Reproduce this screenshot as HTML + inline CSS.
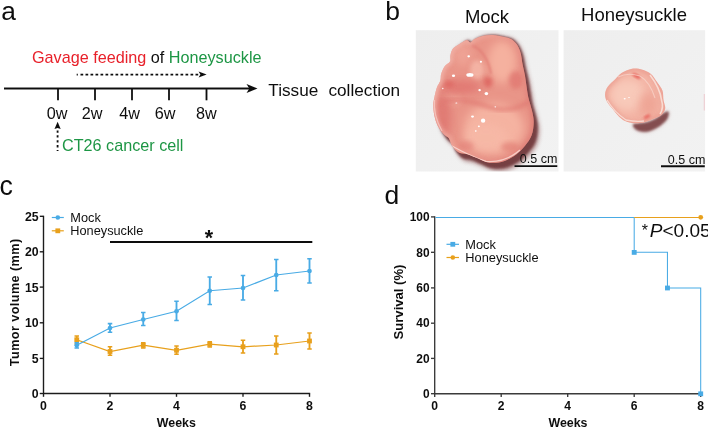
<!DOCTYPE html><html><head><meta charset="utf-8"><style>html,body{margin:0;padding:0;background:#fff}svg{display:block}text{font-family:"Liberation Sans",sans-serif}</style></head><body>
<svg width="708" height="428" viewBox="0 0 708 428">
<defs>
<filter id="b1" x="-20%" y="-20%" width="140%" height="140%"><feGaussianBlur stdDeviation="1"/></filter>
<filter id="b2" x="-30%" y="-30%" width="160%" height="160%"><feGaussianBlur stdDeviation="2.2"/></filter>
<filter id="b4" x="-40%" y="-40%" width="180%" height="180%"><feGaussianBlur stdDeviation="4"/></filter>
<filter id="b05" x="-20%" y="-20%" width="140%" height="140%"><feGaussianBlur stdDeviation="0.5"/></filter>
<radialGradient id="t1g" cx="0.45" cy="0.5" r="0.6"><stop offset="0" stop-color="#f6b9a8"/><stop offset="0.7" stop-color="#f0a596"/><stop offset="1" stop-color="#e58c82"/></radialGradient>
<radialGradient id="t2g" cx="0.45" cy="0.5" r="0.6"><stop offset="0" stop-color="#f8c6b4"/><stop offset="0.75" stop-color="#f3b3a2"/><stop offset="1" stop-color="#ec9c90"/></radialGradient>
<linearGradient id="bg1" x1="0" y1="0" x2="1" y2="1"><stop offset="0" stop-color="#eeeeee"/><stop offset="1" stop-color="#f2f2f2"/></linearGradient>
<linearGradient id="edgeg" gradientUnits="userSpaceOnUse" x1="433" y1="80" x2="534" y2="110"><stop offset="0" stop-color="#f6c3ba"/><stop offset="0.4" stop-color="#efa599"/><stop offset="0.75" stop-color="#e58a82"/><stop offset="1" stop-color="#dd7872"/></linearGradient>
<clipPath id="c1"><rect x="415.8" y="30.2" width="142.7" height="141.3"/></clipPath>
<clipPath id="c2"><rect x="563.6" y="30.2" width="141.5" height="141.3"/></clipPath>
<filter id="soft" x="0" y="0" width="708" height="428" filterUnits="userSpaceOnUse"><feGaussianBlur stdDeviation="0.38"/></filter>
</defs>
<rect width="708" height="428" fill="#fff"/>
<g filter="url(#soft)">
<text x="1.3" y="20.4" font-size="26.3" fill="#111">a</text>
<text x="32" y="62.5" font-size="16.2"><tspan fill="#e8202a">Gavage feeding</tspan><tspan fill="#111"> of </tspan><tspan fill="#1f9645">Honeysuckle</tspan></text>
<line x1="80.5" y1="74.6" x2="198.2" y2="74.6" stroke="#111" stroke-width="1.8" stroke-dasharray="2.7,2.3"/>
<line x1="76.7" y1="74.6" x2="77.8" y2="74.6" stroke="#111" stroke-width="1.8"/>
<path d="M206.6,74.6 L198.6,71.6 L200.4,74.6 L198.6,77.6Z" fill="#111"/>
<line x1="4" y1="88.5" x2="250" y2="88.5" stroke="#111" stroke-width="1.8"/>
<path d="M257.5,88.5 L246.5,84 L249.3,88.5 L246.5,93Z" fill="#111"/>
<line x1="58" y1="88.5" x2="58" y2="100.3" stroke="#111" stroke-width="1.8"/>
<line x1="95" y1="88.5" x2="95" y2="100.3" stroke="#111" stroke-width="1.8"/>
<line x1="132" y1="88.5" x2="132" y2="100.3" stroke="#111" stroke-width="1.8"/>
<line x1="169" y1="88.5" x2="169" y2="100.3" stroke="#111" stroke-width="1.8"/>
<line x1="206.5" y1="88.5" x2="206.5" y2="100.3" stroke="#111" stroke-width="1.8"/>
<text x="46.8" y="118.7" font-size="16.2" fill="#111">0w</text>
<text x="81.8" y="118.7" font-size="16.2" fill="#111">2w</text>
<text x="119.3" y="118.7" font-size="16.2" fill="#111">4w</text>
<text x="154.8" y="118.7" font-size="16.2" fill="#111">6w</text>
<text x="195.9" y="118.7" font-size="16.2" fill="#111">8w</text>
<text x="268.3" y="96.1" font-size="17.2" fill="#111" xml:space="preserve">Tissue <tspan dx="5.4">collection</tspan></text>
<line x1="57.6" y1="130.4" x2="57.6" y2="151.1" stroke="#111" stroke-width="1.8" stroke-dasharray="2.3,2.6"/>
<path d="M57.6,121.8 L54.5,128.9 L57.6,127.9 L60.7,128.9Z" fill="#111"/>
<text x="62" y="151.4" font-size="16.2" fill="#1f9645">CT26 cancer cell</text>
<text x="385.3" y="19.5" font-size="26.5" fill="#111">b</text>
<text x="487" y="23" font-size="18.5" text-anchor="middle" fill="#111">Mock</text>
<text x="634" y="21" font-size="18.5" text-anchor="middle" fill="#111">Honeysuckle</text>
<rect x="415.8" y="30.2" width="142.7" height="141.3" fill="url(#bg1)"/>
<rect x="563.6" y="30.2" width="141.5" height="141.3" fill="url(#bg1)"/>
<g clip-path="url(#c1)">
<path d="M468.5,40.2C470.4,39.9 471.4,43.1 472.7,43.0C473.9,42.8 474.2,40.5 476.2,39.3C478.1,38.1 481.5,36.6 484.6,35.9C487.7,35.2 491.4,35.0 494.8,35.1C498.2,35.2 501.9,36.1 505.0,36.8C508.1,37.5 510.9,37.7 513.4,39.3C515.8,40.9 518.0,43.4 519.8,46.3C521.5,49.1 522.8,52.5 523.9,56.2C525.0,59.9 525.4,63.9 526.4,68.3C527.4,72.6 528.9,77.7 529.9,82.3C530.8,86.9 531.6,91.9 532.3,95.8C533.0,99.7 533.1,102.3 534.0,106.0C534.9,109.7 536.5,114.2 537.4,118.2C538.3,122.2 539.4,125.9 539.3,130.2C539.3,134.5 538.6,139.8 537.1,143.8C535.6,147.8 533.1,150.9 530.6,154.0C528.1,157.1 525.2,160.0 522.1,162.4C519.0,164.8 515.4,167.0 512.0,168.4C508.6,169.8 505.2,170.6 501.8,170.9C498.4,171.2 495.0,170.9 491.6,170.1C488.2,169.2 484.5,167.1 481.4,165.8C478.3,164.5 475.8,163.2 473.0,162.4C470.2,161.5 467.1,162.1 464.5,160.7C461.9,159.3 459.4,156.4 457.7,154.0C456.0,151.6 455.7,148.3 454.3,146.3C452.9,144.3 451.0,144.2 449.2,142.1C447.4,140.0 444.9,136.7 443.3,133.6C441.8,130.5 440.6,126.9 439.9,123.5C439.2,120.1 438.9,116.2 438.9,113.3C438.9,110.4 439.3,108.9 439.9,106.0C440.5,103.1 441.6,98.8 442.5,95.8C443.4,92.8 445.0,90.8 445.6,88.2C446.1,85.7 445.3,83.2 445.8,80.3C446.3,77.5 447.3,73.7 448.6,71.2C449.9,68.7 452.9,67.6 453.7,65.4C454.5,63.3 453.3,60.7 453.6,58.2C453.9,55.7 454.4,52.3 455.7,50.2C456.9,48.0 459.1,46.9 461.2,45.2C463.4,43.5 466.6,40.6 468.5,40.2Z" fill="#a57878" filter="url(#b2)" opacity="0.85"/>
<path d="M467.9,40.2C469.8,39.9 470.8,43.0 472.0,42.8C473.3,42.7 473.6,40.5 475.6,39.3C477.6,38.1 480.9,36.6 484.0,35.9C487.1,35.2 490.8,35.0 494.2,35.1C497.6,35.2 501.3,36.1 504.4,36.8C507.5,37.5 510.3,37.8 512.8,39.3C515.3,40.8 517.4,43.3 519.1,46.0C520.8,48.7 522.0,52.0 523.0,55.5C524.0,59.0 524.4,62.8 525.3,67.0C526.2,71.1 527.6,76.0 528.5,80.4C529.4,84.8 530.0,89.5 530.7,93.4C531.4,97.3 531.5,99.9 532.4,103.6C533.2,107.3 534.9,111.8 535.8,115.8C536.7,119.8 537.8,123.5 537.7,127.8C537.7,132.1 537.0,137.4 535.5,141.4C534.0,145.4 531.5,148.5 529.0,151.6C526.5,154.7 523.6,157.6 520.5,160.0C517.4,162.4 513.8,164.6 510.4,166.0C507.0,167.4 503.6,168.2 500.2,168.5C496.8,168.8 493.4,168.6 490.0,167.7C486.6,166.9 482.9,164.7 479.8,163.4C476.7,162.1 474.2,160.8 471.4,160.0C468.6,159.2 465.4,159.7 462.9,158.3C460.3,156.9 457.8,154.0 456.1,151.6C454.4,149.2 454.1,145.9 452.7,143.9C451.3,141.9 449.4,141.8 447.6,139.7C445.8,137.6 443.2,134.3 441.7,131.2C440.1,128.1 439.0,124.5 438.3,121.1C437.6,117.7 437.3,113.8 437.3,110.9C437.3,108.0 437.7,106.5 438.3,103.6C438.9,100.7 439.9,96.3 440.9,93.4C441.9,90.5 443.5,88.5 444.1,86.1C444.7,83.6 443.9,81.2 444.5,78.5C445.0,75.8 446.1,72.2 447.4,69.8C448.8,67.4 451.8,66.3 452.6,64.3C453.5,62.2 452.3,59.8 452.7,57.4C453.1,55.0 453.6,51.8 454.9,49.7C456.2,47.6 458.4,46.5 460.6,45.0C462.7,43.4 466.0,40.6 467.9,40.2Z" fill="#733c40" filter="url(#b1)" opacity="0.95"/>
<path d="M466.5,40.2C468.4,39.9 469.2,42.6 470.5,42.5C471.8,42.4 472.2,40.4 474.2,39.3C476.2,38.2 479.5,36.6 482.6,35.9C485.7,35.2 489.4,35.0 492.8,35.1C496.2,35.2 499.9,36.1 503.0,36.8C506.1,37.5 509.0,37.9 511.4,39.3C513.8,40.7 515.8,42.9 517.4,45.3C519.0,47.7 519.9,50.6 520.8,53.7C521.6,56.8 521.8,60.2 522.5,63.9C523.2,67.6 524.3,71.8 525.0,75.8C525.7,79.8 526.1,83.9 526.7,87.6C527.3,91.3 527.5,94.1 528.4,97.8C529.2,101.5 530.9,106.0 531.8,110.0C532.7,114.0 533.8,117.7 533.7,122.0C533.7,126.3 533.0,131.6 531.5,135.6C530.0,139.6 527.5,142.7 525.0,145.8C522.5,148.9 519.6,151.8 516.5,154.2C513.4,156.6 509.8,158.8 506.4,160.2C503.0,161.6 499.6,162.4 496.2,162.7C492.8,163.0 489.4,162.8 486.0,161.9C482.6,161.1 478.9,158.9 475.8,157.6C472.7,156.3 470.2,155.0 467.4,154.2C464.6,153.3 461.4,153.9 458.9,152.5C456.3,151.1 453.8,148.2 452.1,145.8C450.4,143.4 450.1,140.1 448.7,138.1C447.3,136.1 445.4,136.0 443.6,133.9C441.8,131.8 439.2,128.5 437.7,125.4C436.1,122.3 435.0,118.7 434.3,115.3C433.6,111.9 433.3,108.0 433.3,105.1C433.3,102.2 433.7,100.7 434.3,97.8C434.9,94.9 435.9,90.4 436.9,87.6C437.9,84.8 439.6,83.0 440.3,80.8C441.0,78.5 440.4,76.5 441.1,74.1C441.8,71.7 443.0,68.5 444.5,66.4C446.0,64.3 449.0,63.3 450.0,61.5C451.0,59.7 449.9,57.5 450.4,55.4C450.9,53.2 451.6,50.4 453.0,48.6C454.4,46.8 456.6,45.8 458.9,44.4C461.1,43.0 464.6,40.5 466.5,40.2Z" fill="#e99588" filter="url(#b05)"/>
<clipPath id="t1c"><path d="M466.5,40.2C468.4,39.9 469.2,42.6 470.5,42.5C471.8,42.4 472.2,40.4 474.2,39.3C476.2,38.2 479.5,36.6 482.6,35.9C485.7,35.2 489.4,35.0 492.8,35.1C496.2,35.2 499.9,36.1 503.0,36.8C506.1,37.5 509.0,37.9 511.4,39.3C513.8,40.7 515.8,42.9 517.4,45.3C519.0,47.7 519.9,50.6 520.8,53.7C521.6,56.8 521.8,60.2 522.5,63.9C523.2,67.6 524.3,71.8 525.0,75.8C525.7,79.8 526.1,83.9 526.7,87.6C527.3,91.3 527.5,94.1 528.4,97.8C529.2,101.5 530.9,106.0 531.8,110.0C532.7,114.0 533.8,117.7 533.7,122.0C533.7,126.3 533.0,131.6 531.5,135.6C530.0,139.6 527.5,142.7 525.0,145.8C522.5,148.9 519.6,151.8 516.5,154.2C513.4,156.6 509.8,158.8 506.4,160.2C503.0,161.6 499.6,162.4 496.2,162.7C492.8,163.0 489.4,162.8 486.0,161.9C482.6,161.1 478.9,158.9 475.8,157.6C472.7,156.3 470.2,155.0 467.4,154.2C464.6,153.3 461.4,153.9 458.9,152.5C456.3,151.1 453.8,148.2 452.1,145.8C450.4,143.4 450.1,140.1 448.7,138.1C447.3,136.1 445.4,136.0 443.6,133.9C441.8,131.8 439.2,128.5 437.7,125.4C436.1,122.3 435.0,118.7 434.3,115.3C433.6,111.9 433.3,108.0 433.3,105.1C433.3,102.2 433.7,100.7 434.3,97.8C434.9,94.9 435.9,90.4 436.9,87.6C437.9,84.8 439.6,83.0 440.3,80.8C441.0,78.5 440.4,76.5 441.1,74.1C441.8,71.7 443.0,68.5 444.5,66.4C446.0,64.3 449.0,63.3 450.0,61.5C451.0,59.7 449.9,57.5 450.4,55.4C450.9,53.2 451.6,50.4 453.0,48.6C454.4,46.8 456.6,45.8 458.9,44.4C461.1,43.0 464.6,40.5 466.5,40.2Z"/></clipPath>
<g clip-path="url(#t1c)">
<ellipse cx="494" cy="128" rx="30" ry="25" fill="#f5b3a1" filter="url(#b4)"/>
<ellipse cx="486" cy="138" rx="22" ry="14" fill="#f7b9a7" filter="url(#b4)" opacity="0.8"/>
<ellipse cx="502" cy="62" rx="14" ry="21" fill="#f5b19f" filter="url(#b4)"/>
<ellipse cx="463" cy="55" rx="9" ry="11" fill="#efa496" filter="url(#b4)" opacity="0.9"/>
<ellipse cx="477" cy="70" rx="7" ry="10" fill="#f5b8a9" filter="url(#b2)" opacity="0.85"/>
<ellipse cx="452" cy="100" rx="10" ry="7" fill="#efa698" filter="url(#b2)" opacity="0.7"/>
<ellipse cx="460" cy="87" rx="22" ry="6.5" fill="#e0756f" filter="url(#b4)" opacity="0.9"/>
<ellipse cx="516" cy="80" rx="7" ry="9" fill="#e17972" filter="url(#b2)" opacity="0.8"/>
<ellipse cx="443" cy="116" rx="8" ry="22" fill="#df7771" filter="url(#b4)" opacity="0.9"/>
<path d="M440,102 Q462,97 486,106 T530,101" stroke="#df756e" stroke-width="3.5" fill="none" filter="url(#b2)" opacity="0.75"/>
<ellipse cx="488" cy="82" rx="4.5" ry="5.5" fill="#dd635e" filter="url(#b2)" opacity="0.85"/>
<ellipse cx="449" cy="84" rx="5" ry="3" fill="#dd635e" filter="url(#b2)" opacity="0.75"/>
<path d="M472,45 Q487,52 491,74" stroke="#e17d75" stroke-width="2.4" fill="none" filter="url(#b1)" opacity="0.75"/>
<ellipse cx="510" cy="147" rx="9" ry="5" fill="#e28076" filter="url(#b2)" opacity="0.65"/>
<ellipse cx="466" cy="146" rx="8" ry="5" fill="#e38279" filter="url(#b2)" opacity="0.6"/>
<path d="M466.5,40.2C468.4,39.9 469.2,42.6 470.5,42.5C471.8,42.4 472.2,40.4 474.2,39.3C476.2,38.2 479.5,36.6 482.6,35.9C485.7,35.2 489.4,35.0 492.8,35.1C496.2,35.2 499.9,36.1 503.0,36.8C506.1,37.5 509.0,37.9 511.4,39.3C513.8,40.7 515.8,42.9 517.4,45.3C519.0,47.7 519.9,50.6 520.8,53.7C521.6,56.8 521.8,60.2 522.5,63.9C523.2,67.6 524.3,71.8 525.0,75.8C525.7,79.8 526.1,83.9 526.7,87.6C527.3,91.3 527.5,94.1 528.4,97.8C529.2,101.5 530.9,106.0 531.8,110.0C532.7,114.0 533.8,117.7 533.7,122.0C533.7,126.3 533.0,131.6 531.5,135.6C530.0,139.6 527.5,142.7 525.0,145.8C522.5,148.9 519.6,151.8 516.5,154.2C513.4,156.6 509.8,158.8 506.4,160.2C503.0,161.6 499.6,162.4 496.2,162.7C492.8,163.0 489.4,162.8 486.0,161.9C482.6,161.1 478.9,158.9 475.8,157.6C472.7,156.3 470.2,155.0 467.4,154.2C464.6,153.3 461.4,153.9 458.9,152.5C456.3,151.1 453.8,148.2 452.1,145.8C450.4,143.4 450.1,140.1 448.7,138.1C447.3,136.1 445.4,136.0 443.6,133.9C441.8,131.8 439.2,128.5 437.7,125.4C436.1,122.3 435.0,118.7 434.3,115.3C433.6,111.9 433.3,108.0 433.3,105.1C433.3,102.2 433.7,100.7 434.3,97.8C434.9,94.9 435.9,90.4 436.9,87.6C437.9,84.8 439.6,83.0 440.3,80.8C441.0,78.5 440.4,76.5 441.1,74.1C441.8,71.7 443.0,68.5 444.5,66.4C446.0,64.3 449.0,63.3 450.0,61.5C451.0,59.7 449.9,57.5 450.4,55.4C450.9,53.2 451.6,50.4 453.0,48.6C454.4,46.8 456.6,45.8 458.9,44.4C461.1,43.0 464.6,40.5 466.5,40.2Z" fill="none" stroke="url(#edgeg)" stroke-width="4.5" filter="url(#b2)" opacity="0.8"/>
<path d="M452,146 Q470,156 486,161.5 Q505,163 520,150" stroke="#fbd9d2" stroke-width="1.4" fill="none" filter="url(#b05)" opacity="0.85"/>
<path d="M434.5,100 Q433,115 442,131" stroke="#f9cfc8" stroke-width="1.2" fill="none" filter="url(#b05)" opacity="0.7"/>
<ellipse cx="469.9" cy="74.9" rx="3.6" ry="1.9" fill="#fff" filter="url(#b05)"/>
<ellipse cx="453.5" cy="75.8" rx="1.6" ry="1.3" fill="#fff" filter="url(#b05)"/>
<ellipse cx="480.9" cy="61.7" rx="1.1" ry="1" fill="#fff" filter="url(#b05)"/>
<ellipse cx="468.7" cy="56.3" rx="1.3" ry="1.1" fill="#fff" filter="url(#b05)"/>
<ellipse cx="486.4" cy="93.6" rx="1.8" ry="1.6" fill="#fff" filter="url(#b05)"/>
<ellipse cx="479.6" cy="90.2" rx="1.2" ry="1.1" fill="#fff" filter="url(#b05)"/>
<ellipse cx="472.5" cy="116.6" rx="1.5" ry="1.1" fill="#fff" filter="url(#b05)"/>
<ellipse cx="483.1" cy="120.7" rx="2.2" ry="2.1" fill="#fff" filter="url(#b05)"/>
<ellipse cx="478.9" cy="126.3" rx="1" ry="0.9" fill="#fff" filter="url(#b05)"/>
<ellipse cx="475.8" cy="131" rx="0.9" ry="0.7" fill="#fff" filter="url(#b05)"/>
<ellipse cx="442.8" cy="88.5" rx="0.7" ry="0.7" fill="#fff" filter="url(#b05)"/>
<ellipse cx="456.4" cy="103" rx="1" ry="0.6" fill="#fff" filter="url(#b05)"/>
<ellipse cx="495.3" cy="106.8" rx="0.8" ry="0.6" fill="#fff" filter="url(#b05)"/>
</g></g>
<line x1="514.5" y1="166.1" x2="557.3" y2="166.1" stroke="#111" stroke-width="1.9"/>
<text x="519.8" y="163.3" font-size="12.5" fill="#111">0.5 cm</text>
<g clip-path="url(#c2)">
<path d="M634.0,124.0C636.0,123.2 642.3,123.4 646.0,122.5C649.7,121.6 653.0,120.1 656.0,118.5C659.0,116.9 661.9,114.1 664.0,113.0C666.1,111.9 668.0,111.0 668.5,112.0C669.0,113.0 668.6,116.6 667.0,119.0C665.4,121.4 662.2,124.4 659.0,126.5C655.8,128.6 651.3,130.8 648.0,131.5C644.7,132.2 641.3,131.7 639.0,131.0C636.7,130.3 634.8,128.7 634.0,127.5C633.2,126.3 632.0,124.8 634.0,124.0Z" fill="#b99292" filter="url(#b2)" opacity="0.7"/>
<path d="M634.0,124.0C636.0,123.2 642.3,123.4 646.0,122.5C649.7,121.6 653.0,120.1 656.0,118.5C659.0,116.9 661.9,114.1 664.0,113.0C666.1,111.9 668.0,111.0 668.5,112.0C669.0,113.0 668.6,116.6 667.0,119.0C665.4,121.4 662.2,124.4 659.0,126.5C655.8,128.6 651.3,130.8 648.0,131.5C644.7,132.2 641.3,131.7 639.0,131.0C636.7,130.3 634.8,128.7 634.0,127.5C633.2,126.3 632.0,124.8 634.0,124.0Z" fill="#804a4c" filter="url(#b1)" opacity="0.95"/>
<path d="M632.0,68.7C635.5,68.2 639.4,68.8 642.5,69.7C645.6,70.6 648.4,71.8 650.9,73.9C653.4,76.0 655.3,79.5 657.2,82.3C659.1,85.1 661.5,87.7 662.5,90.7C663.5,93.7 663.0,97.2 663.5,100.2C664.0,103.2 665.6,106.1 665.2,108.6C664.9,111.0 663.4,113.2 661.4,114.9C659.4,116.7 655.8,117.9 653.0,119.1C650.2,120.3 647.8,121.5 644.6,122.2C641.5,122.9 637.2,123.5 634.1,123.3C631.0,123.1 628.2,122.2 625.7,121.2C623.2,120.2 621.5,118.9 619.4,117.0C617.3,115.1 615.2,112.2 613.1,109.6C611.0,107.0 608.1,103.8 606.8,101.2C605.5,98.6 604.9,96.4 605.1,93.9C605.3,91.5 606.2,89.0 607.9,86.5C609.6,84.0 612.9,81.5 615.2,79.2C617.5,76.9 618.7,74.7 621.5,72.9C624.3,71.2 628.5,69.2 632.0,68.7Z" fill="#f3b3a4" filter="url(#b05)"/>
<clipPath id="t2c"><path d="M632.0,68.7C635.5,68.2 639.4,68.8 642.5,69.7C645.6,70.6 648.4,71.8 650.9,73.9C653.4,76.0 655.3,79.5 657.2,82.3C659.1,85.1 661.5,87.7 662.5,90.7C663.5,93.7 663.0,97.2 663.5,100.2C664.0,103.2 665.6,106.1 665.2,108.6C664.9,111.0 663.4,113.2 661.4,114.9C659.4,116.7 655.8,117.9 653.0,119.1C650.2,120.3 647.8,121.5 644.6,122.2C641.5,122.9 637.2,123.5 634.1,123.3C631.0,123.1 628.2,122.2 625.7,121.2C623.2,120.2 621.5,118.9 619.4,117.0C617.3,115.1 615.2,112.2 613.1,109.6C611.0,107.0 608.1,103.8 606.8,101.2C605.5,98.6 604.9,96.4 605.1,93.9C605.3,91.5 606.2,89.0 607.9,86.5C609.6,84.0 612.9,81.5 615.2,79.2C617.5,76.9 618.7,74.7 621.5,72.9C624.3,71.2 628.5,69.2 632.0,68.7Z"/></clipPath>
<g clip-path="url(#t2c)">
<ellipse cx="628" cy="95" rx="18" ry="16" fill="#f8c9b9" filter="url(#b4)"/>
<ellipse cx="648" cy="104" rx="9" ry="12" fill="#eda192" filter="url(#b4)" opacity="0.8"/>
<path d="M632.0,68.7C635.5,68.2 639.4,68.8 642.5,69.7C645.6,70.6 648.4,71.8 650.9,73.9C653.4,76.0 655.3,79.5 657.2,82.3C659.1,85.1 661.5,87.7 662.5,90.7C663.5,93.7 663.0,97.2 663.5,100.2C664.0,103.2 665.6,106.1 665.2,108.6C664.9,111.0 663.4,113.2 661.4,114.9C659.4,116.7 655.8,117.9 653.0,119.1C650.2,120.3 647.8,121.5 644.6,122.2C641.5,122.9 637.2,123.5 634.1,123.3C631.0,123.1 628.2,122.2 625.7,121.2C623.2,120.2 621.5,118.9 619.4,117.0C617.3,115.1 615.2,112.2 613.1,109.6C611.0,107.0 608.1,103.8 606.8,101.2C605.5,98.6 604.9,96.4 605.1,93.9C605.3,91.5 606.2,89.0 607.9,86.5C609.6,84.0 612.9,81.5 615.2,79.2C617.5,76.9 618.7,74.7 621.5,72.9C624.3,71.2 628.5,69.2 632.0,68.7Z" fill="none" stroke="#e79387" stroke-width="3.5" filter="url(#b2)" opacity="0.75"/>
<ellipse cx="636.5" cy="76" rx="4.5" ry="2" fill="#e8605a" filter="url(#b1)" opacity="0.85" transform="rotate(30 636.5 76)"/>
<ellipse cx="647" cy="116.8" rx="3.6" ry="1.7" fill="#e8605a" filter="url(#b1)" opacity="0.85" transform="rotate(-30 647 116.8)"/>
<path d="M650,75 Q660,88 661.5,100 Q664,108 660,114" stroke="#fae0d8" stroke-width="1.6" fill="none" filter="url(#b05)" opacity="0.9"/>
<path d="M607,100 Q614,112 626,120 Q636,122 644,121" stroke="#fae0d8" stroke-width="1.4" fill="none" filter="url(#b05)" opacity="0.85"/>
<path d="M618,77 Q628,72 640,76 Q650,82 655,98" stroke="#f9d6cc" stroke-width="1.1" fill="none" filter="url(#b05)" opacity="0.7"/>
<ellipse cx="624.7" cy="98.7" rx="1" ry="0.7" fill="#fff" filter="url(#b05)"/>
<ellipse cx="629" cy="97.5" rx="0.8" ry="0.6" fill="#fff" filter="url(#b05)"/>
</g></g>
<line x1="704.3" y1="94" x2="704.3" y2="110.5" stroke="#ecb4bc" stroke-width="1.1" opacity="0.6"/>
<line x1="661" y1="166.3" x2="704.8" y2="166.3" stroke="#111" stroke-width="1.9"/>
<text x="667.8" y="163.5" font-size="12.5" fill="#111">0.5 cm</text>
<text x="-0.5" y="195.2" font-size="26.8" fill="#111">c</text>
<path d="M43.5,215.65V393.5H310.15" fill="none" stroke="#1a1a1a" stroke-width="1.35"/>
<line x1="39.8" y1="393.50" x2="43.5" y2="393.50" stroke="#1a1a1a" stroke-width="1.35"/>
<text x="38.7" y="397.90" font-size="12.3" font-weight="bold" text-anchor="end" fill="#111">0</text>
<line x1="39.8" y1="358.40" x2="43.5" y2="358.40" stroke="#1a1a1a" stroke-width="1.35"/>
<text x="38.7" y="362.80" font-size="12.3" font-weight="bold" text-anchor="end" fill="#111">5</text>
<line x1="39.8" y1="322.80" x2="43.5" y2="322.80" stroke="#1a1a1a" stroke-width="1.35"/>
<text x="38.7" y="327.20" font-size="12.3" font-weight="bold" text-anchor="end" fill="#111">10</text>
<line x1="39.8" y1="287.10" x2="43.5" y2="287.10" stroke="#1a1a1a" stroke-width="1.35"/>
<text x="38.7" y="291.50" font-size="12.3" font-weight="bold" text-anchor="end" fill="#111">15</text>
<line x1="39.8" y1="251.80" x2="43.5" y2="251.80" stroke="#1a1a1a" stroke-width="1.35"/>
<text x="38.7" y="256.20" font-size="12.3" font-weight="bold" text-anchor="end" fill="#111">20</text>
<line x1="39.8" y1="216.30" x2="43.5" y2="216.30" stroke="#1a1a1a" stroke-width="1.35"/>
<text x="38.7" y="220.70" font-size="12.3" font-weight="bold" text-anchor="end" fill="#111">25</text>
<line x1="43.5" y1="393.5" x2="43.5" y2="396.8" stroke="#1a1a1a" stroke-width="1.35"/>
<text x="43.5" y="409.8" font-size="12.3" font-weight="bold" text-anchor="middle" fill="#111">0</text>
<line x1="110.0" y1="393.5" x2="110.0" y2="396.8" stroke="#1a1a1a" stroke-width="1.35"/>
<text x="110.0" y="409.8" font-size="12.3" font-weight="bold" text-anchor="middle" fill="#111">2</text>
<line x1="176.5" y1="393.5" x2="176.5" y2="396.8" stroke="#1a1a1a" stroke-width="1.35"/>
<text x="176.5" y="409.8" font-size="12.3" font-weight="bold" text-anchor="middle" fill="#111">4</text>
<line x1="243.0" y1="393.5" x2="243.0" y2="396.8" stroke="#1a1a1a" stroke-width="1.35"/>
<text x="243.0" y="409.8" font-size="12.3" font-weight="bold" text-anchor="middle" fill="#111">6</text>
<line x1="309.5" y1="393.5" x2="309.5" y2="396.8" stroke="#1a1a1a" stroke-width="1.35"/>
<text x="309.5" y="409.8" font-size="12.3" font-weight="bold" text-anchor="middle" fill="#111">8</text>
<text x="176.3" y="427.3" font-size="12.4" font-weight="bold" text-anchor="middle" fill="#111">Weeks</text>
<text transform="translate(18.6,366.2) rotate(-90)" font-size="12.7" font-weight="bold" textLength="127.4" lengthAdjust="spacing" fill="#111">Tumor volume (mm)</text>
<polyline points="76.75,339.75 110.00,351.50 143.25,345.25 176.50,350.25 209.75,344.25 243.00,346.75 276.25,345.00 309.50,341.00" fill="none" stroke="#e8a01c" stroke-width="1.25"/>
<path d="M76.75,336V344" stroke="#e8a01c" stroke-width="1.85" fill="none"/>
<path d="M74.5,336H79.0M74.5,344H79.0" stroke="#e8a01c" stroke-width="1.6" fill="none"/>
<rect x="74.35" y="337.35" width="4.8" height="4.8" fill="#e8a01c"/>
<path d="M110.0,346.75V355.25" stroke="#e8a01c" stroke-width="1.85" fill="none"/>
<path d="M107.75,346.75H112.25M107.75,355.25H112.25" stroke="#e8a01c" stroke-width="1.6" fill="none"/>
<rect x="107.6" y="349.1" width="4.8" height="4.8" fill="#e8a01c"/>
<path d="M143.25,342.75V348" stroke="#e8a01c" stroke-width="1.85" fill="none"/>
<path d="M141.0,342.75H145.5M141.0,348H145.5" stroke="#e8a01c" stroke-width="1.6" fill="none"/>
<rect x="140.85" y="342.85" width="4.8" height="4.8" fill="#e8a01c"/>
<path d="M176.5,346V354.25" stroke="#e8a01c" stroke-width="1.85" fill="none"/>
<path d="M174.25,346H178.75M174.25,354.25H178.75" stroke="#e8a01c" stroke-width="1.6" fill="none"/>
<rect x="174.1" y="347.85" width="4.8" height="4.8" fill="#e8a01c"/>
<path d="M209.75,341.75V347" stroke="#e8a01c" stroke-width="1.85" fill="none"/>
<path d="M207.5,341.75H212.0M207.5,347H212.0" stroke="#e8a01c" stroke-width="1.6" fill="none"/>
<rect x="207.35" y="341.85" width="4.8" height="4.8" fill="#e8a01c"/>
<path d="M243.0,340.25V353" stroke="#e8a01c" stroke-width="1.85" fill="none"/>
<path d="M240.75,340.25H245.25M240.75,353H245.25" stroke="#e8a01c" stroke-width="1.6" fill="none"/>
<rect x="240.6" y="344.35" width="4.8" height="4.8" fill="#e8a01c"/>
<path d="M276.25,336V354" stroke="#e8a01c" stroke-width="1.85" fill="none"/>
<path d="M274.0,336H278.5M274.0,354H278.5" stroke="#e8a01c" stroke-width="1.6" fill="none"/>
<rect x="273.85" y="342.6" width="4.8" height="4.8" fill="#e8a01c"/>
<path d="M309.5,333V349" stroke="#e8a01c" stroke-width="1.85" fill="none"/>
<path d="M307.25,333H311.75M307.25,349H311.75" stroke="#e8a01c" stroke-width="1.6" fill="none"/>
<rect x="307.1" y="338.6" width="4.8" height="4.8" fill="#e8a01c"/>
<polyline points="76.75,345.25 110.00,328.00 143.25,319.50 176.50,311.25 209.75,290.75 243.00,288.00 276.25,275.00 309.50,271.00" fill="none" stroke="#49abe5" stroke-width="1.25"/>
<path d="M76.75,342.75V348" stroke="#49abe5" stroke-width="1.85" fill="none"/>
<path d="M74.5,342.75H79.0M74.5,348H79.0" stroke="#49abe5" stroke-width="1.6" fill="none"/>
<circle cx="76.75" cy="345.25" r="2.35" fill="#49abe5"/>
<path d="M110.0,323.6V332.2" stroke="#49abe5" stroke-width="1.85" fill="none"/>
<path d="M107.75,323.6H112.25M107.75,332.2H112.25" stroke="#49abe5" stroke-width="1.6" fill="none"/>
<circle cx="110.0" cy="328" r="2.35" fill="#49abe5"/>
<path d="M143.25,312.5V325.5" stroke="#49abe5" stroke-width="1.85" fill="none"/>
<path d="M141.0,312.5H145.5M141.0,325.5H145.5" stroke="#49abe5" stroke-width="1.6" fill="none"/>
<circle cx="143.25" cy="319.5" r="2.35" fill="#49abe5"/>
<path d="M176.5,301.25V320.5" stroke="#49abe5" stroke-width="1.85" fill="none"/>
<path d="M174.25,301.25H178.75M174.25,320.5H178.75" stroke="#49abe5" stroke-width="1.6" fill="none"/>
<circle cx="176.5" cy="311.25" r="2.35" fill="#49abe5"/>
<path d="M209.75,277V304.5" stroke="#49abe5" stroke-width="1.85" fill="none"/>
<path d="M207.5,277H212.0M207.5,304.5H212.0" stroke="#49abe5" stroke-width="1.6" fill="none"/>
<circle cx="209.75" cy="290.75" r="2.35" fill="#49abe5"/>
<path d="M243.0,275.5V300" stroke="#49abe5" stroke-width="1.85" fill="none"/>
<path d="M240.75,275.5H245.25M240.75,300H245.25" stroke="#49abe5" stroke-width="1.6" fill="none"/>
<circle cx="243.0" cy="288" r="2.35" fill="#49abe5"/>
<path d="M276.25,259.5V290.75" stroke="#49abe5" stroke-width="1.85" fill="none"/>
<path d="M274.0,259.5H278.5M274.0,290.75H278.5" stroke="#49abe5" stroke-width="1.6" fill="none"/>
<circle cx="276.25" cy="275" r="2.35" fill="#49abe5"/>
<path d="M309.5,258.75V283" stroke="#49abe5" stroke-width="1.85" fill="none"/>
<path d="M307.25,258.75H311.75M307.25,283H311.75" stroke="#49abe5" stroke-width="1.6" fill="none"/>
<circle cx="309.5" cy="271" r="2.35" fill="#49abe5"/>
<line x1="51.8" y1="217.5" x2="63.8" y2="217.5" stroke="#49abe5" stroke-width="1.2"/><circle cx="57.8" cy="217.5" r="2.3" fill="#49abe5"/>
<text x="70.3" y="222.2" font-size="12.75" fill="#111">Mock</text>
<line x1="51.8" y1="230.8" x2="63.8" y2="230.8" stroke="#e8a01c" stroke-width="1.2"/><rect x="55.4" y="228.4" width="4.8" height="4.8" fill="#e8a01c"/>
<text x="70.3" y="235.2" font-size="12.75" fill="#111">Honeysuckle</text>
<line x1="110" y1="242" x2="312.3" y2="242" stroke="#111" stroke-width="1.9"/>
<text x="209" y="244.5" font-size="21.5" font-weight="bold" text-anchor="middle" fill="#111">*</text>
<text x="384.6" y="203.7" font-size="26.5" fill="#111">d</text>
<path d="M434.7,216.25V393.7H700.7" fill="none" stroke="#3a3a3a" stroke-width="1.35"/>
<line x1="431.0" y1="393.70" x2="434.7" y2="393.70" stroke="#3a3a3a" stroke-width="1.35"/>
<text x="429.5" y="397.90" font-size="11.9" font-weight="bold" text-anchor="end" fill="#111">0</text>
<line x1="431.0" y1="358.40" x2="434.7" y2="358.40" stroke="#3a3a3a" stroke-width="1.35"/>
<text x="429.5" y="362.60" font-size="11.9" font-weight="bold" text-anchor="end" fill="#111">20</text>
<line x1="431.0" y1="323.20" x2="434.7" y2="323.20" stroke="#3a3a3a" stroke-width="1.35"/>
<text x="429.5" y="327.40" font-size="11.9" font-weight="bold" text-anchor="end" fill="#111">40</text>
<line x1="431.0" y1="287.90" x2="434.7" y2="287.90" stroke="#3a3a3a" stroke-width="1.35"/>
<text x="429.5" y="292.10" font-size="11.9" font-weight="bold" text-anchor="end" fill="#111">60</text>
<line x1="431.0" y1="252.30" x2="434.7" y2="252.30" stroke="#3a3a3a" stroke-width="1.35"/>
<text x="429.5" y="256.50" font-size="11.9" font-weight="bold" text-anchor="end" fill="#111">80</text>
<line x1="431.0" y1="216.90" x2="434.7" y2="216.90" stroke="#3a3a3a" stroke-width="1.35"/>
<text x="429.5" y="221.10" font-size="11.9" font-weight="bold" text-anchor="end" fill="#111">100</text>
<line x1="434.7" y1="393.7" x2="434.7" y2="397.0" stroke="#3a3a3a" stroke-width="1.35"/>
<text x="434.7" y="409.9" font-size="12.1" font-weight="bold" text-anchor="middle" fill="#111">0</text>
<line x1="501.2" y1="393.7" x2="501.2" y2="397.0" stroke="#3a3a3a" stroke-width="1.35"/>
<text x="501.2" y="409.9" font-size="12.1" font-weight="bold" text-anchor="middle" fill="#111">2</text>
<line x1="567.7" y1="393.7" x2="567.7" y2="397.0" stroke="#3a3a3a" stroke-width="1.35"/>
<text x="567.7" y="409.9" font-size="12.1" font-weight="bold" text-anchor="middle" fill="#111">4</text>
<line x1="634.2" y1="393.7" x2="634.2" y2="397.0" stroke="#3a3a3a" stroke-width="1.35"/>
<text x="634.2" y="409.9" font-size="12.1" font-weight="bold" text-anchor="middle" fill="#111">6</text>
<line x1="700.7" y1="393.7" x2="700.7" y2="397.0" stroke="#3a3a3a" stroke-width="1.35"/>
<text x="700.7" y="409.9" font-size="12.1" font-weight="bold" text-anchor="middle" fill="#111">8</text>
<path d="M435.4,217.5H634.2V252.3H667.45V287.9H700.7V393.7" fill="none" stroke="#49abe5" stroke-width="1.05"/>
<path d="M634.2,217.5H700.7" fill="none" stroke="#e8a01c" stroke-width="1.05"/>
<rect x="631.75" y="250.0" width="4.9" height="4.8" fill="#49abe5"/>
<rect x="665.0" y="285.59999999999997" width="4.9" height="4.8" fill="#49abe5"/>
<rect x="698.25" y="391.4" width="4.9" height="4.8" fill="#49abe5"/>
<circle cx="700.7" cy="217.3" r="2.4" fill="#e8a01c"/>
<text x="568" y="427.3" font-size="12.4" font-weight="bold" text-anchor="middle" fill="#111">Weeks</text>
<text transform="translate(403.3,302) rotate(-90)" font-size="13.1" font-weight="bold" text-anchor="middle" fill="#111">Survival (%)</text>
<line x1="446.5" y1="244.3" x2="459" y2="244.3" stroke="#49abe5" stroke-width="1.2"/><rect x="450.4" y="241.9" width="4.8" height="4.8" fill="#49abe5"/>
<text x="465.3" y="248.8" font-size="12.8" fill="#111">Mock</text>
<line x1="446.5" y1="257.5" x2="459" y2="257.5" stroke="#e8a01c" stroke-width="1.2"/><circle cx="452.8" cy="257.5" r="2.3" fill="#e8a01c"/>
<text x="465.3" y="262" font-size="12.8" fill="#111">Honeysuckle</text>
<text x="641.7" y="235.8" font-size="16" fill="#111">*</text>
<text x="649.8" y="237.4" font-size="19" fill="#111"><tspan font-style="italic">P</tspan>&lt;0.05</text>
</g></svg></body></html>
